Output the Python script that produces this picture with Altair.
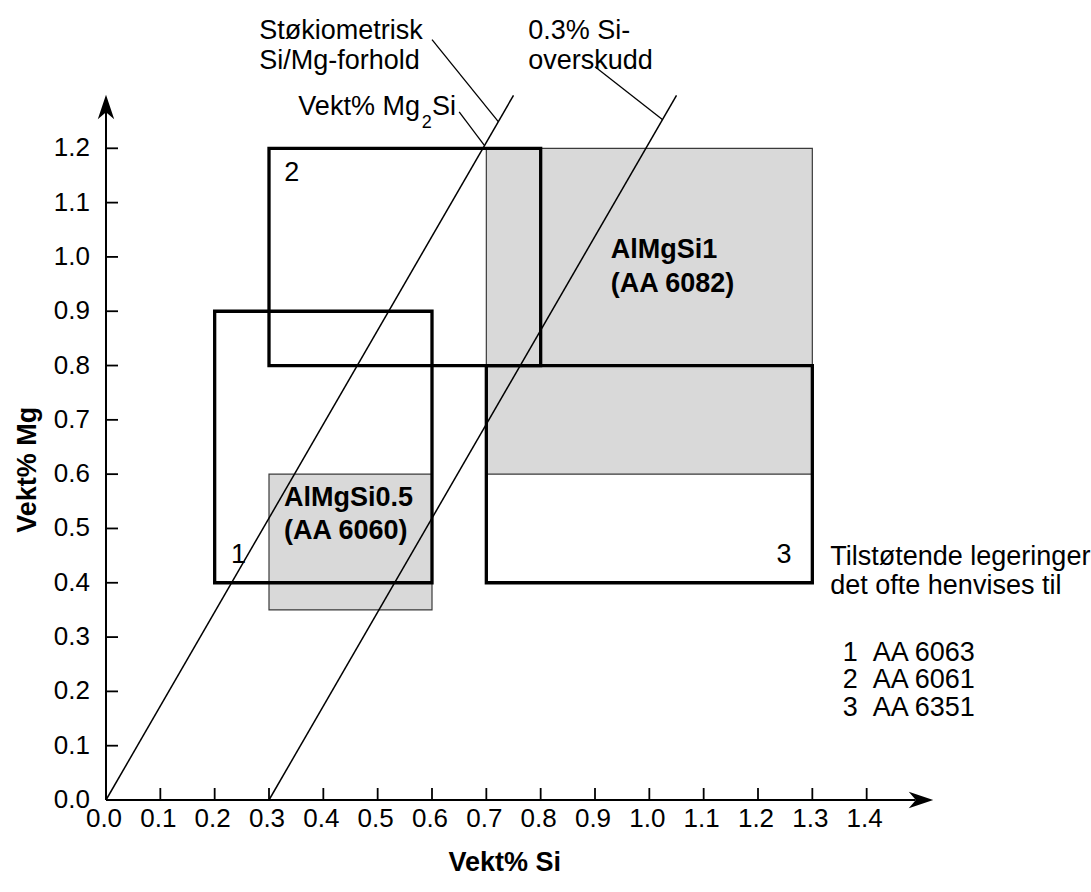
import altair as alt
import pandas as pd

FONT = "Liberation Sans"

# ---- data -------------------------------------------------------------
x_ticks = [0.0, 0.1, 0.2, 0.3, 0.4, 0.5, 0.6, 0.7, 0.8, 0.9, 1.0, 1.1, 1.2, 1.3, 1.4]
y_ticks = [0.0, 0.1, 0.2, 0.3, 0.4, 0.5, 0.6, 0.7, 0.8, 0.9, 1.0, 1.1, 1.2]

# shaded alloy windows
shaded_names = ["AlMgSi0.5 (AA 6060)", "AlMgSi1 (AA 6082)"]
shaded_si_min = [0.3, 0.7]
shaded_si_max = [0.6, 1.3]
shaded_mg_min = [0.35, 0.6]
shaded_mg_max = [0.6, 1.2]

# adjacent alloys (bold boxes)
adj_ids = ["1", "2", "3"]
adj_names = ["AA 6063", "AA 6061", "AA 6351"]
adj_si_min = [0.2, 0.3, 0.7]
adj_si_max = [0.6, 0.8, 1.3]
adj_mg_min = [0.4, 0.8, 0.4]
adj_mg_max = [0.9, 1.2, 0.8]

# Mg2Si lines (stoichiometric and 0.3 % Si excess)
line_names = ["Støkiometrisk", "0.3% Si-overskudd"]
line_si_start = [0.0, 0.3]
line_mg_start = [0.0, 0.0]
line_si_end = [0.75, 1.05]
line_mg_end = [1.2975, 1.2975]

# leader lines of the annotations
leader_x1 = [0.600, 0.900, 0.650]
leader_y1 = [1.400, 1.350, 1.267]
leader_x2 = [0.722, 1.024, 0.696]
leader_y2 = [1.249, 1.253, 1.206]

# ---- layout ------------------------------------------------------------
W, H = 815, 706
XD, YD = [0, 1.5], [0, 1.3]
PX = W / (XD[1] - XD[0])


def X(f="x"):
    return alt.X(f"{f}:Q", scale=alt.Scale(domain=XD, nice=False, zero=False), axis=None)


def Y(f="y"):
    return alt.Y(f"{f}:Q", scale=alt.Scale(domain=YD, nice=False, zero=False), axis=None)


shaded = pd.DataFrame({"name": shaded_names, "x": shaded_si_min, "x2": shaded_si_max,
                       "y": shaded_mg_min, "y2": shaded_mg_max})
adj = pd.DataFrame({"id": adj_ids, "name": adj_names, "x": adj_si_min, "x2": adj_si_max,
                    "y": adj_mg_min, "y2": adj_mg_max})
lines = pd.DataFrame({"name": line_names, "x": line_si_start, "y": line_mg_start,
                      "x2": line_si_end, "y2": line_mg_end})
leaders = pd.DataFrame({"x": leader_x1, "y": leader_y1, "x2": leader_x2, "y2": leader_y2})

tick_len = 12 / PX
xt = pd.DataFrame({"x": x_ticks[1:], "y": [0.0] * (len(x_ticks) - 1), "y2": [tick_len] * (len(x_ticks) - 1)})
yt = pd.DataFrame({"y": y_ticks[1:], "x": [0.0] * (len(y_ticks) - 1), "x2": [tick_len] * (len(y_ticks) - 1)})
xl = pd.DataFrame({"x": x_ticks, "lab": [f"{v:.1f}" for v in x_ticks]})
yl = pd.DataFrame({"y": y_ticks, "lab": [f"{v:.1f}" for v in y_ticks]})

layers = []

layers.append(alt.Chart(shaded).mark_rect(fill="#d9d9d9", stroke="#3a3a3a", strokeWidth=1.2).encode(
    x=X(), x2="x2", y=Y(), y2="y2"))

layers.append(alt.Chart(adj).mark_rect(fillOpacity=0, fill="white", stroke="black", strokeWidth=3.3).encode(
    x=X(), x2="x2", y=Y(), y2="y2"))

layers.append(alt.Chart(lines).mark_rule(color="black", strokeWidth=1.5).encode(
    x=X(), x2="x2", y=Y(), y2="y2"))

layers.append(alt.Chart(leaders).mark_rule(color="black", strokeWidth=1.3).encode(
    x=X(), x2="x2", y=Y(), y2="y2"))

# axes lines
axes_df = pd.DataFrame({"x": [0.0, 0.0], "y": [0.0, 0.0], "x2": [1.49, 0.0], "y2": [0.0, 1.275]})
layers.append(alt.Chart(axes_df).mark_rule(color="black", strokeWidth=2).encode(
    x=X(), x2="x2", y=Y(), y2="y2"))

layers.append(alt.Chart(xt).mark_rule(color="black", strokeWidth=1.8).encode(x=X(), y=Y(), y2="y2"))
layers.append(alt.Chart(yt).mark_rule(color="black", strokeWidth=1.8).encode(y=Y(), x=X(), x2="x2"))

arrow_path = "M0,-1L0.67,1L0,0.42L-0.67,1Z"
arrows = pd.DataFrame({"x": [0.0, 1.5], "y": [(800 - 107) / (H / 1.3), 0.0], "ang": [0, 90]})
layers.append(alt.Chart(arrows).mark_point(shape=arrow_path, filled=True, fill="black", stroke=None,
                                           size=600, opacity=1).encode(
    x=X(), y=Y(), angle=alt.Angle("ang:Q", scale=None)))

# tick labels
layers.append(alt.Chart(xl).mark_text(font=FONT, fontSize=26, align="center", baseline="alphabetic",
                                      dx=-2, color="black").encode(
    x=X(), y=alt.value(H + 27), text="lab:N"))
layers.append(alt.Chart(yl).mark_text(font=FONT, fontSize=26, align="right", baseline="middle",
                                      color="black").encode(
    x=alt.value(-16), y=Y(), text="lab:N"))

# annotations (normal weight)
norm = pd.DataFrame({
    "t": ["Støkiometrisk", "Si/Mg-forhold", "0.3% Si-", "overskudd", "Vekt% Mg", "Si",
          "Tilstøtende legeringer", "det ofte henvises til",
          "1", "2", "3"] + adj_names + adj_ids,
    "x": [0.282, 0.282, 0.777, 0.777, 0.354, 0.600,
          1.333, 1.333,
          1.356, 1.356, 1.356, 1.411, 1.411, 1.411,
          0.230, 0.328, 1.234],
    "y": [1.402, 1.346, 1.402, 1.346, 1.2615, 1.2615,
          0.4325, 0.379,
          0.256, 0.2054, 0.1548, 0.256, 0.2054, 0.1548,
          0.436, 1.139, 0.436],
})
layers.append(alt.Chart(norm).mark_text(font=FONT, fontSize=27, align="left", baseline="alphabetic",
                                        color="black").encode(x=X(), y=Y(), text="t:N"))

sub = pd.DataFrame({"t": ["2"], "x": [0.581], "y": [1.2376]})
layers.append(alt.Chart(sub).mark_text(font=FONT, fontSize=18, align="left", baseline="alphabetic",
                                       color="black").encode(x=X(), y=Y(), text="t:N"))

bold = pd.DataFrame({
    "t": ["AlMgSi0.5", "(AA 6060)", "AlMgSi1", "(AA 6082)"],
    "x": [0.3275, 0.3275, 0.929, 0.929],
    "y": [0.5415, 0.48, 0.998, 0.935],
})
layers.append(alt.Chart(bold).mark_text(font=FONT, fontSize=27, fontWeight="bold", align="left",
                                        baseline="alphabetic", color="black").encode(x=X(), y=Y(), text="t:N"))

xtitle = pd.DataFrame({"t": ["Vekt% Si"], "x": [0.734], "y": [-0.1308]})
layers.append(alt.Chart(xtitle).mark_text(font=FONT, fontSize=27, fontWeight="bold", align="center",
                                          baseline="alphabetic", color="black").encode(x=X(), y=Y(), text="t:N"))
ytitle = pd.DataFrame({"t": ["Vekt% Mg"], "x": [-0.129], "y": [0.608]})
layers.append(alt.Chart(ytitle).mark_text(font=FONT, fontSize=27, fontWeight="bold", align="center",
                                          baseline="alphabetic", angle=270, color="black").encode(
    x=X(), y=Y(), text="t:N"))

chart = alt.layer(*layers).properties(
    width=W, height=H,
    padding={"left": 106, "top": 94, "right": 1091 - 106 - W, "bottom": 892 - 94 - H},
    autosize="none",
    background="white",
).configure_view(stroke=None)

chart.save("out.html", embed_options={"renderer": "svg", "actions": False})
